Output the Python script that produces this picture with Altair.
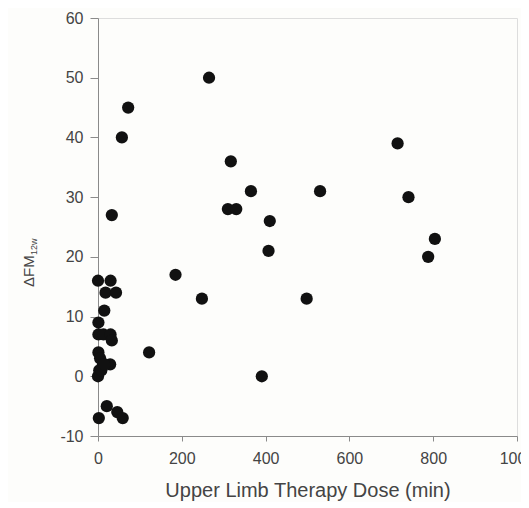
import altair as alt
import pandas as pd

# Upper limb therapy dose (min) and change in Fugl-Meyer at 12 weeks
dose = [72, 57, 33, 265, 715, 317, 365, 530, 310, 330, 741, 410, 804, 407, 788,
        185, 248, 498, 391, 122,
        0, 30, 18, 43, 15, 1, 1, 13, 30, 33, 1, 5, 29, 12, 3, 0, 8, 15,
        21, 2, 46, 59]
dfm = [45, 40, 27, 50, 39, 36, 31, 31, 28, 28, 30, 26, 23, 21, 20,
       17, 13, 13, 0, 4,
       16, 16, 14, 14, 11, 9, 7, 7, 7, 6, 4, 3, 2, 2, 1, 0, 1, 2,
       -5, -7, -6, -7]

x_ticks = [0, 200, 400, 600, 800, 1000]
y_ticks = [-10, 0, 10, 20, 30, 40, 50, 60]

df = pd.DataFrame({"dose": dose, "dfm": dfm})

FONT = "Liberation Sans"
TXT = "#444444"
AX = "#8a8a8a"

points = alt.Chart(df).mark_circle(size=150, color="#111111", opacity=1).encode(
    x=alt.X("dose:Q",
            scale=alt.Scale(domain=[0, 1000], nice=False, zero=False),
            axis=alt.Axis(values=x_ticks, tickSize=5, labelPadding=9,
                          labelFontSize=16, labelFont=FONT, labelColor=TXT,
                          domainColor=AX, tickColor=AX, grid=False,
                          labelFlush=False, labelBound=False,
                          labelExpr="'' + datum.value", labelOverlap=False,
                          title="Upper Limb Therapy Dose (min)",
                          titleFont=FONT, titleFontSize=20,
                          titleFontWeight="normal", titleColor=TXT,
                          titlePadding=14)),
    y=alt.Y("dfm:Q",
            scale=alt.Scale(domain=[-10, 60], nice=False, zero=False),
            axis=alt.Axis(values=y_ticks, tickSize=8, labelPadding=7,
                          labelFontSize=16, labelFont=FONT, labelColor=TXT,
                          domainColor=AX, tickColor=AX, grid=False,
                          labelFlush=False,
                          labelExpr="'' + datum.value", title=None)),
)

title_main = alt.Chart(pd.DataFrame({"t": ["ΔFM"]})).mark_text(
    angle=270, align="left", baseline="middle", font=FONT, fontSize=15,
    color=TXT).encode(text="t:N", x=alt.value(-69), y=alt.value(269))

title_sub = alt.Chart(pd.DataFrame({"t": ["12w"]})).mark_text(
    angle=270, align="left", baseline="middle", font=FONT, fontSize=9,
    color=TXT).encode(text="t:N", x=alt.value(-64), y=alt.value(237))

chart = alt.layer(points, title_main, title_sub).properties(
    width=419, height=418,
    autosize=alt.AutoSizeParams(type="none"),
    padding={"left": 90, "top": 10, "right": 4, "bottom": 66},
).configure_view(stroke=None).configure(background="#fdfdfb")

chart.save("out.html", embed_options={"renderer": "svg", "actions": False})
